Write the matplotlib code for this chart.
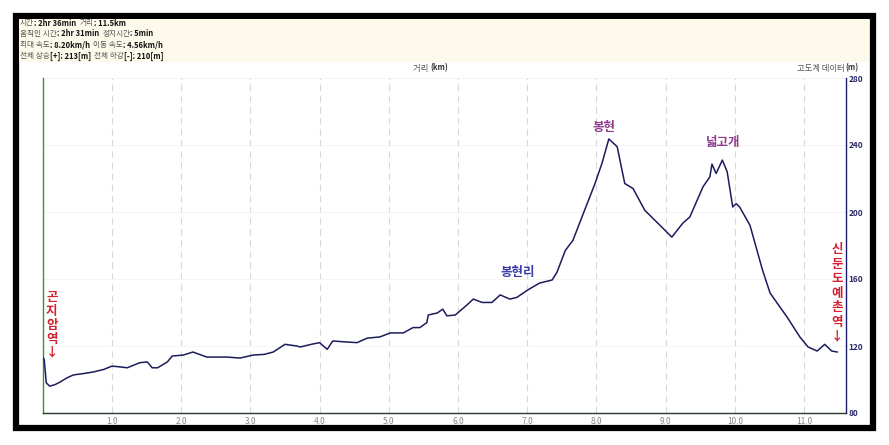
import matplotlib
matplotlib.use("Agg")
import matplotlib.pyplot as plt
from matplotlib.patches import Rectangle

plt.rcParams['font.family'] = ['Noto Sans CJK KR', 'DejaVu Sans']

# 고도 프로파일 (거리 km, 고도 m) - 그림에서 읽은 값
dist_km = [0.00, 0.02, 0.05, 0.10, 0.18, 0.25, 0.35, 0.44, 0.58, 0.73, 0.88, 1.00,
           1.12, 1.22, 1.40, 1.51, 1.58, 1.66, 1.80, 1.87, 2.03, 2.17, 2.37, 2.66,
           2.85, 3.04, 3.20, 3.33, 3.50, 3.67, 3.72, 3.88, 4.00, 4.11, 4.19, 4.35,
           4.54, 4.69, 4.87, 5.02, 5.21, 5.35, 5.45, 5.55, 5.57, 5.70, 5.78, 5.84,
           5.96, 6.13, 6.22, 6.35, 6.49, 6.61, 6.75, 6.85, 7.01, 7.18, 7.36, 7.43,
           7.55, 7.66, 7.81, 7.98, 8.08, 8.18, 8.30, 8.41, 8.53, 8.70, 8.92, 9.09,
           9.25, 9.35, 9.54, 9.64, 9.67, 9.73, 9.82, 9.89, 9.97, 10.02, 10.07, 10.22,
           10.40, 10.51, 10.76, 10.94, 11.06, 11.19, 11.30, 11.40, 11.48]
elev_m = [113, 112, 98, 96, 97, 98.5, 101, 102.7, 103.5, 104.5, 106, 108,
          107.5, 107, 110, 110.5, 107, 107, 110.5, 114, 114.6, 116.4, 113.4, 113.4,
          112.8, 114.6, 115, 116.4, 121, 120, 119.4, 121, 122, 118, 123, 122.5,
          122, 124.7, 125.4, 127.8, 127.8, 131, 131, 134, 138.5, 139.7, 142, 138,
          138.5, 144.5, 148, 146, 146, 150.5, 148, 149, 153.5, 157.6, 159.4, 164,
          177, 183, 199, 217, 229, 243.6, 239, 217, 214, 201, 192, 185,
          193.4, 197, 215, 221, 228.6, 223, 231, 224, 203, 205, 203, 192,
          165.4, 151.6, 137, 125.4, 119.4, 117, 121, 117, 116.4]

x_ticks = [1.0, 2.0, 3.0, 4.0, 5.0, 6.0, 7.0, 8.0, 9.0, 10.0, 11.0]
y_ticks = [80, 120, 160, 200, 240, 280]

header_lines = [
    [("시간", False), (": 2hr 36min  ", True), ("거리", False), (": 11.5km", True)],
    [("움직인 시간", False), (": 2hr 31min  ", True), ("정지시간", False), (": 5min", True)],
    [("최대 속도", False), (": 8.20km/h  ", True), ("이동 속도", False), (": 4.56km/h", True)],
    [("전체 상승", False), ("[+]: 213[m]  ", True), ("전체 하강", False), ("[-]: 210[m]", True)],
]

W, H = 889, 445
fig = plt.figure(figsize=(W / 100, H / 100), dpi=100)
fig.patch.set_facecolor('white')

# 바깥 검은 테두리와 머리말 배경 (축 뒤에 그림)
fig.patches.append(Rectangle((16 / W, 1 - 428 / H), 857 / W, 412 / H, transform=fig.transFigure,
                             facecolor='white', edgecolor='black', linewidth=4.5, zorder=-2))
fig.patches.append(Rectangle((19 / W, 1 - 62 / H), 850 / W, 43 / H, transform=fig.transFigure,
                             facecolor='#fdfaec', edgecolor='none', zorder=-1))

ax = fig.add_axes([42.8 / W, 1 - 413 / H, (846 - 42.8) / W, (413 - 78) / H])
ax.set_zorder(2)
ax.set_facecolor('white')
ax.plot(dist_km, elev_m, color='#1c1c5c', linewidth=1.1, zorder=3)

ax.set_xlim(0, 11.607)
ax.set_ylim(80, 280)
ax.set_xticks(x_ticks)
ax.set_xticklabels([f"{v:.1f}" for v in x_ticks], fontsize=6, color='#888888')
ax.yaxis.tick_right()
ax.set_yticks(y_ticks)
ax.set_yticklabels([str(v) for v in y_ticks], fontsize=6, color='#2a2a6a', fontweight='bold')
ax.tick_params(axis='both', length=0, pad=3)
ax.tick_params(axis='y', pad=2)

ax.grid(axis='x', color='#d8d8d8', linestyle=(0, (6, 4)), linewidth=0.8, zorder=1)
ax.grid(axis='y', color='#f2f2f2', linestyle='-', linewidth=0.6, zorder=1)

ax.spines['top'].set_visible(False)
ax.spines['left'].set_color('#2a9a2a')
ax.spines['left'].set_linewidth(1.0)
ax.spines['right'].set_color('#1c1c6c')
ax.spines['right'].set_linewidth(1.0)
ax.spines['bottom'].set_color('#2a3a2a')
ax.spines['bottom'].set_linewidth(1.0)

# 축 제목
fig.text(430 / W, 1 - 68 / H, "거리 ", fontsize=6, color='#555555', ha='right', va='center')
fig.text(430 / W, 1 - 68 / H, "(km)", fontsize=5.5, color='#333333', fontweight='bold', ha='left', va='center')
fig.text(858 / W, 1 - 68 / H, "(m)", fontsize=5.5, color='#333333', fontweight='bold', ha='right', va='center')
fig.text(845 / W, 1 - 68 / H, "고도계 데이터", fontsize=6, color='#555555', ha='right', va='center')

# 지명 표시
ax.text(8.11, 250.7, "봉현", fontsize=9, color='#8e3c8e', fontweight='bold', ha='center', va='center')
ax.text(9.83, 241.2, "넓고개", fontsize=9, color='#8e3c8e', fontweight='bold', ha='center', va='center')
ax.text(6.87, 164, "봉현리", fontsize=9, color='#3b3ba8', fontweight='bold', ha='center', va='center')
ax.text(0.13, 132.5, "곤\n지\n암\n역\n↓", fontsize=9, color='#d42030', fontweight='bold',
        ha='center', va='center', linespacing=1.1)
ax.text(11.48, 151.6, "신\n둔\n도\n예\n촌\n역\n↓", fontsize=9, color='#d42030', fontweight='bold',
        ha='center', va='center', linespacing=1.15)

# 머리말 통계 (한글은 보통, 값은 굵게)
renderer = fig.canvas.get_renderer()
line_y = [23, 34, 45, 56]
for pieces, y in zip(header_lines, line_y):
    x = 20 / W
    for txt, bold in pieces:
        t = fig.text(x, 1 - y / H, txt, fontsize=5.5, va='center', ha='left',
                     color='#111111' if bold else '#555555',
                     fontweight='bold' if bold else 'normal')
        bb = t.get_window_extent(renderer)
        x = fig.transFigure.inverted().transform((bb.x1, bb.y0))[0]

fig.savefig("out.png", dpi=100)
